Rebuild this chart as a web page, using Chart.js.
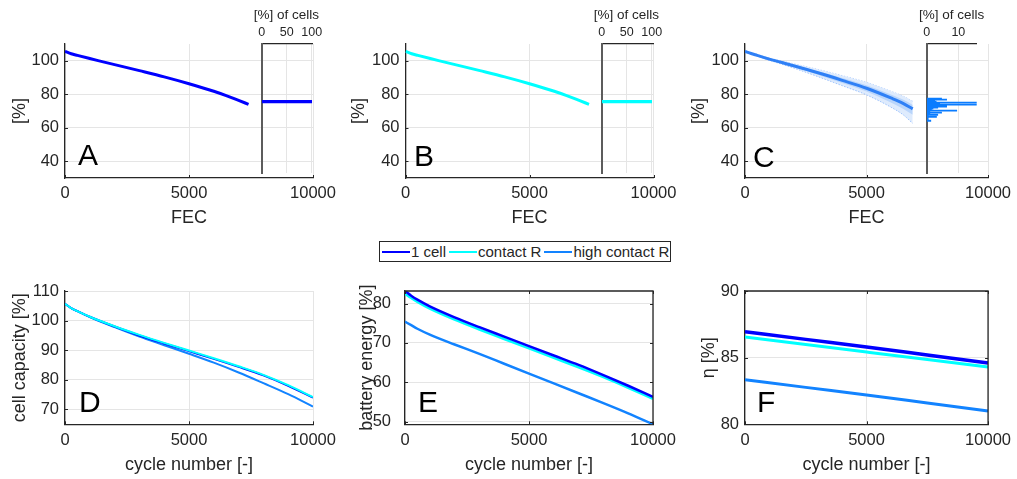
<!DOCTYPE html>
<html>
<head>
<meta charset="utf-8">
<script src="https://cdn.jsdelivr.net/npm/chart.js@4.4.1/dist/chart.umd.min.js"></script>
<style>
  html, body { margin: 0; padding: 0; background: #fff; }
  #page { position: relative; width: 1017px; height: 479px; overflow: hidden;
          font-family: "Liberation Sans", Arial, sans-serif; background: #fff; }
  #page canvas { position: absolute; left: 0; top: 0; }
  #legend { position: absolute; left: 379px; top: 241px; width: 290px; height: 19px;
            border: 1px solid #262626; background: #fff; display: flex; align-items: center;
            font-size: 15px; color: #262626; z-index: 5; white-space: nowrap; }
  #legend .item { display: flex; align-items: center; margin-left: 2px; }
  #legend .item + .item { margin-left: 3px; }
  #legend .swatch { display: inline-block; width: 28px; height: 0; border-top: 2px solid; margin-right: 1px; }
</style>
</head>
<body>
<div id="page">
  <div id="legend"></div>
</div>
<script>
// ---- series names and colours ----
const seriesNames  = ['1 cell', 'contact R', 'high contact R'];
const seriesColors = ['#0000ff', '#00ffff', '#1283ff'];

// ---- shared tick labels ----
const xTicks      = [0, 5000, 10000];
const yTicksTop   = [40, 60, 80, 100];
const yTicksD     = [70, 80, 90, 100, 110];
const yTicksE     = [50, 60, 70, 80];
const yTicksF     = [80, 85, 90];
const histTicksAB = [0, 50, 100];
const histTicksC  = [0, 10];

// ---- A: single cell, remaining capacity over FEC ----
const fecA = [0, 250, 500, 1000, 1500, 2000, 3000, 4000, 5000, 6000, 6500, 7000, 7400];
const capA = [105.6, 104.2, 103.2, 101.3, 99.5, 97.7, 94.1, 90.4, 86.3, 81.8, 79.2, 76.3, 74.0];
const eolLevelA = [75.6];
const eolShareA = [100];

// ---- B: cells with contact resistance ----
const fecB = [0, 250, 500, 1000, 1500, 2000, 3000, 4000, 5000, 6000, 6500, 7000, 7400];
const capB = [105.6, 104.2, 103.2, 101.3, 99.5, 97.7, 94.1, 90.4, 86.3, 81.8, 79.2, 76.3, 74.0];
const eolLevelB = [75.6];
const eolShareB = [100];

// ---- C: cells with high contact resistance (mean and spread) ----
const fecC     = [0, 250, 500, 1000, 2000, 3000, 4000, 5000, 6000, 6500, 6900];
const capCMean = [105.6, 104.3, 103.2, 101.0, 97.0, 92.8, 88.3, 83.6, 77.8, 74.6, 71.3];
const capCOutHi = [105.8, 104.6, 103.6, 101.6, 98.2, 94.8, 91.1, 87.1, 81.8, 78.9, 75.8];
const capCOutLo = [105.4, 104.0, 102.8, 100.3, 95.6, 90.5, 85.1, 79.6, 72.3, 67.8, 62.6];
const capCInHi  = [105.7, 104.45, 103.4, 101.3, 97.6, 93.8, 89.7, 85.3, 79.8, 76.8, 73.6];
const capCInLo  = [105.5, 104.15, 103.0, 100.65, 96.3, 91.7, 86.7, 81.6, 75.1, 71.4, 67.7];
const eolLevelC = [77.4, 76.8, 76.2, 75.6, 75.0, 74.4, 73.8, 73.2, 72.6, 72.0, 71.4, 70.8,
                   70.2, 69.6, 69.0, 68.4, 67.8, 67.2, 66.6, 66.0, 64.8, 64.2];
const eolShareC = [4.7, 6.3, 2.5, 3.0, 15.8, 4.1, 15.8, 6.3, 6.3, 3.5, 2.0, 1.5,
                   9.5, 1.0, 4.7, 1.0, 3.5, 0.5, 3.1, 0.5, 0.5, 1.3];

// ---- D/E: cell capacity and battery energy over cycle number ----
const cycles = [0, 250, 500, 1000, 2000, 3000, 4000, 5000, 6000, 7000, 8000, 9000, 10000];
const capOne     = [105.7, 104.2, 103.2, 101.3, 98.0, 95.0, 92.3, 89.7, 87.1, 84.4, 81.5, 78.0, 74.0];
const capContact = [105.7, 104.2, 103.2, 101.3, 98.1, 95.2, 92.5, 89.9, 87.3, 84.6, 81.7, 78.2, 74.2];
const capHigh    = [105.7, 104.2, 103.2, 101.2, 97.8, 94.6, 91.7, 88.8, 85.8, 82.5, 78.9, 75.2, 71.0];
const energyOne     = [83.2, 82.0, 81.0, 79.3, 76.5, 74.0, 71.6, 69.2, 66.8, 64.4, 61.8, 59.1, 56.3];
const energyContact = [82.5, 81.4, 80.4, 78.7, 75.9, 73.4, 71.0, 68.6, 66.2, 63.8, 61.3, 58.6, 55.8];
const energyHigh    = [75.4, 74.5, 73.6, 72.1, 69.6, 67.2, 64.7, 62.2, 59.7, 57.2, 54.7, 52.1, 49.3];

// ---- F: efficiency over cycle number ----
const cyclesF    = [0, 2500, 5000, 7500, 10000];
const etaOne     = [86.95, 86.37, 85.8, 85.2, 84.6];
const etaContact = [86.55, 85.98, 85.42, 84.86, 84.3];
const etaHigh    = [83.35, 82.77, 82.2, 81.6, 81.0];

// ---------------------------------------------------------------
const W = 1017, H = 479;
const FONT = '"Liberation Sans", Arial, Helvetica, sans-serif';
const INK = '#262626';
const GRID = '#e5e5e5';

Chart.defaults.font.family = FONT;
Chart.defaults.color = INK;

const page = document.getElementById('page');
function newCanvas() {
  const c = document.createElement('canvas');
  c.width = W; c.height = H;
  c.style.width = W + 'px'; c.style.height = H + 'px';
  page.insertBefore(c, document.getElementById('legend'));
  return c;
}
const pts = (xs, ys) => xs.map((x, i) => ({ x: x, y: ys[i] }));
const fixTicks = vals => scale => { scale.ticks = vals.map(v => ({ value: v })); };

// big panel letter inside the plot
const letterPlugin = {
  id: 'panelLetter',
  afterDraw(chart, args, o) {
    if (!o || !o.text) return;
    const ctx = chart.ctx;
    ctx.save();
    ctx.font = '30px ' + FONT;
    ctx.fillStyle = '#000';
    ctx.textBaseline = 'alphabetic';
    ctx.textAlign = 'left';
    ctx.fillText(o.text, o.x, o.y);
    ctx.restore();
  }
};

// title above the small histogram, allowed to be wider than its axis
const insetTitlePlugin = {
  id: 'insetTitle',
  afterDraw(chart, args, o) {
    if (!o || !o.text) return;
    const ctx = chart.ctx;
    const a = chart.chartArea;
    ctx.save();
    ctx.font = '13.5px ' + FONT;
    ctx.fillStyle = INK;
    ctx.textBaseline = 'middle';
    ctx.textAlign = 'center';
    ctx.fillText(o.text, (a.left + a.right) / 2 + (o.dx || 0), o.y);
    ctx.restore();
  }
};

// short inward tick marks, plus the closing box on panels that have one
const framePlugin = {
  id: 'frameExtras',
  afterDraw(chart, args, o) {
    const { ctx, chartArea: a, scales } = chart;
    const xs = scales.x, ys = scales.y;
    const len = 3;
    ctx.save();
    ctx.strokeStyle = INK;
    ctx.lineWidth = 1;
    ctx.beginPath();
    ys.ticks.forEach(t => {
      const py = Math.round(ys.getPixelForValue(t.value)) + 0.5;
      ctx.moveTo(a.left, py); ctx.lineTo(a.left + len, py);
      if (o.box) { ctx.moveTo(a.right, py); ctx.lineTo(a.right - len, py); }
    });
    xs.ticks.forEach(t => {
      const px = Math.round(xs.getPixelForValue(t.value)) + 0.5;
      ctx.moveTo(px, a.bottom); ctx.lineTo(px, a.bottom - len);
      if (o.box) { ctx.moveTo(px, a.top); ctx.lineTo(px, a.top + len); }
    });
    ctx.stroke();
    if (o.box) {
      ctx.lineWidth = 1.3;
      ctx.beginPath();
      ctx.moveTo(a.left, a.top); ctx.lineTo(a.right, a.top); ctx.lineTo(a.right, a.bottom);
      ctx.stroke();
    }
    ctx.restore();
  }
};

function lineDataset(xs, ys, color, width, order) {
  return {
    data: pts(xs, ys), borderColor: color, backgroundColor: color, borderWidth: width,
    pointRadius: 0, fill: false, cubicInterpolationMode: 'monotone', order: order
  };
}

function linePanel(cfg) {
  const p = cfg.area;
  const yBoxLeft = cfg.yTitleX - 10.8;      // 18px title, line height 21.6
  const xBoxBottom = cfg.xTitleY + 10.8;
  new Chart(newCanvas(), {
    type: 'line',
    data: { datasets: cfg.datasets },
    options: {
      responsive: false, animation: false, devicePixelRatio: 1,
      layout: { padding: { left: yBoxLeft, top: p.t, right: W - p.r, bottom: H - xBoxBottom } },
      scales: {
        x: {
          type: 'linear', min: 0, max: 10000,
          afterBuildTicks: fixTicks(xTicks),
          afterFit: s => { s.height = xBoxBottom - p.b; },
          grid: { color: GRID, drawTicks: false },
          border: { color: INK, width: 1.3 },
          ticks: { padding: 6, font: { size: 16.5 }, color: INK, maxRotation: 0, autoSkip: false,
                   callback: v => String(v) },
          title: { display: true, text: cfg.xTitle, font: { size: 18 }, color: INK, padding: 0 }
        },
        y: {
          type: 'linear', min: cfg.yMin, max: cfg.yMax,
          afterBuildTicks: fixTicks(cfg.yTicks),
          afterFit: s => { s.width = p.l - yBoxLeft; },
          grid: { color: GRID, drawTicks: false },
          border: { color: INK, width: 1.3 },
          ticks: { padding: cfg.yPad || 6, font: { size: 16.5 }, color: INK, autoSkip: false,
                   callback: v => String(v) },
          title: { display: true, text: cfg.yTitle, font: { size: 18 }, color: INK, padding: 0 }
        }
      },
      plugins: {
        legend: { display: false }, tooltip: { enabled: false },
        panelLetter: cfg.letter,
        frameExtras: { box: !!cfg.box }
      }
    },
    plugins: [letterPlugin, framePlugin]
  });
}

function histPanel(cfg) {
  const p = cfg.area;
  const axisTop = 8;
  new Chart(newCanvas(), {
    type: 'bar',
    data: { datasets: [{
      data: cfg.levels.map((v, i) => ({ x: cfg.shares[i], y: v })),
      backgroundColor: cfg.color, borderWidth: 0, barThickness: cfg.thick, grouped: false
    }] },
    options: {
      indexAxis: 'y', responsive: false, animation: false, devicePixelRatio: 1,
      layout: { padding: { left: p.l, top: axisTop, right: W - p.r, bottom: H - p.b } },
      scales: {
        x: {
          type: 'linear', position: 'top', min: 0, max: cfg.xMax,
          afterBuildTicks: fixTicks(cfg.ticks),
          afterFit: s => { s.height = p.t - axisTop; },
          grid: { color: GRID, drawTicks: false },
          border: { color: INK, width: 1.2 },
          ticks: { padding: 4, font: { size: 12.5 }, color: INK, maxRotation: 0, autoSkip: false },
          title: { display: false }
        },
        y: {
          type: 'linear', min: cfg.yMin, max: cfg.yMax, offset: false,
          afterFit: s => { s.width = 0; },
          ticks: { display: false },
          grid: { display: false, drawTicks: false },
          border: { color: '#5c5c5c', width: 2 }
        }
      },
      plugins: {
        legend: { display: false }, tooltip: { enabled: false },
        insetTitle: { text: '[%] of cells', y: 15.5, dx: cfg.titleDx || 0 }
      }
    },
    plugins: [insetTitlePlugin]
  });
}

// ---------------- top row ----------------
linePanel({
  area: { l: 65, t: 44, r: 313, b: 178 }, yMin: 30, yMax: 110, yTicks: yTicksTop,
  yTitle: '[%]', xTitle: 'FEC', yTitleX: 20, xTitleY: 218.5,
  letter: { text: 'A', x: 78, y: 165 },
  datasets: [lineDataset(fecA, capA, seriesColors[0], 3, 0)]
});
histPanel({
  area: { l: 261.7, t: 44, r: 313, b: 173 }, xMax: 102.6, ticks: histTicksAB, titleDx: -1,
  yMin: 33, yMax: 110, levels: eolLevelA, shares: eolShareA, color: seriesColors[0], thick: 2.6
});

linePanel({
  area: { l: 405.5, t: 44, r: 653.5, b: 178 }, yMin: 30, yMax: 110, yTicks: yTicksTop,
  yTitle: '[%]', xTitle: 'FEC', yTitleX: 359.5, xTitleY: 218.5,
  letter: { text: 'B', x: 414, y: 166 },
  datasets: [lineDataset(fecB, capB, seriesColors[1], 3, 0)]
});
histPanel({
  area: { l: 601.7, t: 44, r: 653, b: 173 }, xMax: 102.6, ticks: histTicksAB, titleDx: -1,
  yMin: 33, yMax: 110, levels: eolLevelB, shares: eolShareB, color: seriesColors[1], thick: 2.6
});

const bandEdge = 'rgba(70,140,250,0.45)';
linePanel({
  area: { l: 745, t: 44, r: 993, b: 178 }, yMin: 30, yMax: 110, yTicks: yTicksTop,
  yTitle: '[%]', xTitle: 'FEC', yTitleX: 699.5, xTitleY: 218.5,
  letter: { text: 'C', x: 753, y: 167 },
  datasets: [
    { data: pts(fecC, capCOutHi), borderColor: bandEdge, borderWidth: 1, borderDash: [1.5, 1.5],
      pointRadius: 0, fill: false, cubicInterpolationMode: 'monotone', order: 4 },
    { data: pts(fecC, capCOutLo), borderColor: bandEdge, borderWidth: 1, borderDash: [1.5, 1.5],
      backgroundColor: '#deebfd', pointRadius: 0, fill: '-1', cubicInterpolationMode: 'monotone', order: 3 },
    { data: pts(fecC, capCInHi), borderColor: 'rgba(0,0,0,0)', borderWidth: 0,
      pointRadius: 0, fill: false, cubicInterpolationMode: 'monotone', order: 2 },
    { data: pts(fecC, capCInLo), borderColor: 'rgba(0,0,0,0)', borderWidth: 0,
      backgroundColor: '#b9d5fb', pointRadius: 0, fill: '-1', cubicInterpolationMode: 'monotone', order: 1 },
    lineDataset(fecC, capCMean, '#2f80f6', 3, 0)
  ]
});
histPanel({
  area: { l: 926.7, t: 44, r: 976.7, b: 173 }, xMax: 15.8, ticks: histTicksC, titleDx: 0,
  yMin: 33, yMax: 110, levels: eolLevelC, shares: eolShareC, color: '#0a7cff', thick: 1.2
});

// ---------------- bottom row ----------------
linePanel({
  area: { l: 65, t: 291, r: 313, b: 424.3 }, yMin: 65, yMax: 110, yTicks: yTicksD,
  yTitle: 'cell capacity [%]', xTitle: 'cycle number [-]', yTitleX: 20, xTitleY: 465,
  letter: { text: 'D', x: 79, y: 412 },
  datasets: [
    lineDataset(cycles, capOne, seriesColors[0], 2, 1),
    lineDataset(cycles, capContact, seriesColors[1], 2, 0),
    lineDataset(cycles, capHigh, seriesColors[2], 2, 2)
  ]
});

linePanel({
  area: { l: 405, t: 291, r: 653, b: 424.3 }, yMin: 49.3, yMax: 83.2, yTicks: yTicksE, yPad: 14,
  yTitle: 'battery energy [%]', xTitle: 'cycle number [-]', yTitleX: 367, xTitleY: 465,
  letter: { text: 'E', x: 418, y: 412 }, box: true,
  datasets: [
    lineDataset(cycles, energyOne, seriesColors[0], 2.5, 0),
    lineDataset(cycles, energyContact, seriesColors[1], 2.5, 1),
    lineDataset(cycles, energyHigh, seriesColors[2], 2.5, 2)
  ]
});

linePanel({
  area: { l: 745, t: 291, r: 993, b: 424.3 }, yMin: 80, yMax: 90, yTicks: yTicksF,
  yTitle: 'η [%]', xTitle: 'cycle number [-]', yTitleX: 709, xTitleY: 465,
  letter: { text: 'F', x: 757, y: 412 }, box: true,
  datasets: [
    lineDataset(cyclesF, etaOne, seriesColors[0], 3.5, 0),
    lineDataset(cyclesF, etaContact, seriesColors[1], 3, 1),
    lineDataset(cyclesF, etaHigh, seriesColors[2], 3, 2)
  ]
});

// ---------------- shared legend ----------------
const legend = document.getElementById('legend');
seriesNames.forEach((name, i) => {
  const item = document.createElement('span');
  item.className = 'item';
  const sw = document.createElement('span');
  sw.className = 'swatch';
  sw.style.borderTopColor = seriesColors[i];
  const label = document.createElement('span');
  label.textContent = name;
  item.appendChild(sw); item.appendChild(label);
  legend.appendChild(item);
});
</script>
</body>
</html>
